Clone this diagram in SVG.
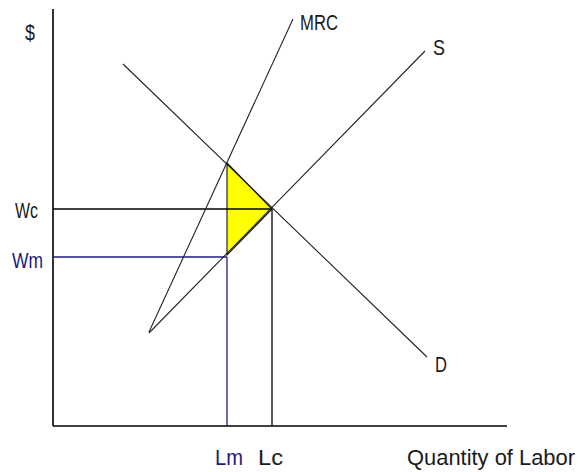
<svg xmlns="http://www.w3.org/2000/svg" width="580" height="472" viewBox="0 0 580 472">
<style>
.t{font-family:"Liberation Sans",Arial,sans-serif;font-size:22px;fill:#1a1a1a}
.b{fill:#1c1c7a}
.ax{stroke:#000;stroke-width:1.6;fill:none}
.cv{stroke:#222;stroke-width:1.1;fill:none}
.gk{stroke:#000;stroke-width:1.3;fill:none}
.gb{stroke:#1c1c7a;stroke-width:1.3;fill:none}
</style>
<rect width="580" height="472" fill="#fff"/>
<g id="triangle">
<polygon points="227,163 272,209 227,255" fill="#ffff00" stroke="#111" stroke-width="1.1"/>
</g>
<g id="connectors">
<line class="ax" x1="53" y1="9" x2="53" y2="426"/>
<line class="ax" x1="53" y1="426" x2="507" y2="426"/>
<line class="gk" x1="53" y1="209" x2="272" y2="209"/>
<line class="gk" x1="272" y1="209" x2="272" y2="426"/>
<line class="gb" x1="53" y1="257" x2="227" y2="257"/>
<line class="gb" x1="227" y1="257" x2="227" y2="426"/>
</g>
<g id="MRC">
<line class="cv" x1="149" y1="332" x2="293" y2="19"/>
<text class="t" x="300" y="30" textLength="38" lengthAdjust="spacingAndGlyphs">MRC</text>
</g>
<g id="S">
<line class="cv" x1="149" y1="333" x2="425" y2="51"/>
<text class="t" x="433" y="55" textLength="12" lengthAdjust="spacingAndGlyphs">S</text>
</g>
<g id="D">
<line class="cv" x1="123" y1="64" x2="427" y2="357"/>
<text class="t" x="435" y="372" textLength="12" lengthAdjust="spacingAndGlyphs">D</text>
</g>
<g id="labels">
<text class="t" x="25" y="40" textLength="10" lengthAdjust="spacingAndGlyphs">$</text>
<text class="t" x="15" y="218" textLength="23" lengthAdjust="spacingAndGlyphs">Wc</text>
<text class="t b" x="12" y="268" textLength="31" lengthAdjust="spacingAndGlyphs">Wm</text>
<text class="t b" x="215" y="465" textLength="28" lengthAdjust="spacingAndGlyphs">Lm</text>
<text class="t" x="258" y="465" textLength="25" lengthAdjust="spacingAndGlyphs">Lc</text>
<text class="t" x="407" y="465" textLength="168" lengthAdjust="spacingAndGlyphs">Quantity of Labor</text>
</g>
</svg>
